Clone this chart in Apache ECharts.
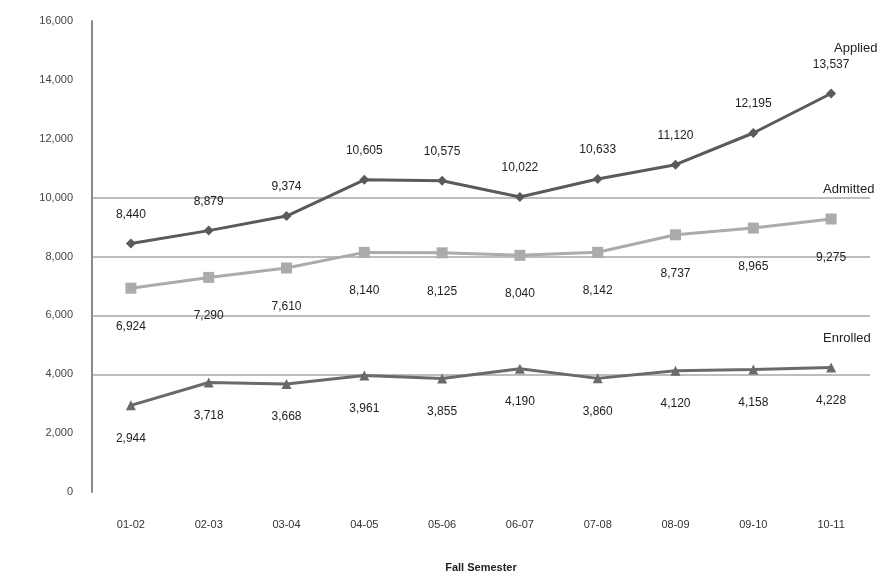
<!DOCTYPE html>
<html>
<head>
<meta charset="utf-8">
<script src="https://cdn.jsdelivr.net/npm/echarts@6/dist/echarts.min.js"></script>
<style>html,body{margin:0;padding:0;background:#fff}#c{width:890px;height:578px}</style>
</head>
<body>
<div id="c"></div>
<script>
const categories = ['01-02','02-03','03-04','04-05','05-06','06-07','07-08','08-09','09-10','10-11'];
const applied  = [8440, 8879, 9374, 10605, 10575, 10022, 10633, 11120, 12195, 13537];
const admitted = [6924, 7290, 7610, 8140, 8125, 8040, 8142, 8737, 8965, 9275];
const enrolled = [2944, 3718, 3668, 3961, 3855, 4190, 3860, 4120, 4158, 4228];
const seriesNames = ['Applied', 'Admitted', 'Enrolled'];
const xAxisTitle = 'Fall Semester';

const font = 'Liberation Sans';
const fmt = v => v.toLocaleString('en-US');
const chart = echarts.init(document.getElementById('c'));
const valLabel = (pos, dist) => ({
  show: true, position: pos, distance: dist, color: '#222', fontSize: 12, fontFamily: font,
  formatter: p => fmt(p.value)
});
const endLabel = (off) => ({
  show: true, formatter: '{a}', color: '#222', fontSize: 13, fontFamily: font, offset: off
});
chart.setOption({
  animation: false,
  backgroundColor: '#fff',
  grid: { left: 92, right: 20, top: 21, bottom: 81 },
  xAxis: {
    type: 'category', data: categories, boundaryGap: true,
    name: xAxisTitle, nameLocation: 'middle', nameGap: 70,
    nameTextStyle: { fontWeight: 'bold', fontSize: 11, color: '#222', fontFamily: font },
    axisLine: { show: false }, axisTick: { show: false },
    axisLabel: { color: '#333', fontSize: 11, fontFamily: font, margin: 27 }
  },
  yAxis: {
    type: 'value', min: 0, max: 16000, interval: 2000,
    axisLine: { show: true, lineStyle: { color: '#8a8a8a', width: 2 } },
    axisTick: { show: false },
    axisLabel: { color: '#444', fontSize: 11, fontFamily: font, margin: 19, formatter: v => fmt(v) },
    splitLine: { show: true, lineStyle: { width: 2, color: [
      'rgba(0,0,0,0)', 'rgba(0,0,0,0)', '#bdbdbd', '#bdbdbd', '#bdbdbd', '#bdbdbd',
      'rgba(0,0,0,0)', 'rgba(0,0,0,0)', 'rgba(0,0,0,0)'] } }
  },
  series: [
    { name: seriesNames[0], type: 'line', data: applied, symbol: 'diamond', symbolSize: 10,
      lineStyle: { color: '#5a5a5a', width: 3 }, itemStyle: { color: '#5a5a5a' },
      label: valLabel('top', 18), endLabel: endLabel([-5, -45]) },
    { name: seriesNames[1], type: 'line', data: admitted, symbol: 'rect', symbolSize: 11,
      lineStyle: { color: '#ababab', width: 3 }, itemStyle: { color: '#ababab' },
      label: valLabel('bottom', 27), endLabel: endLabel([-16, -30]) },
    { name: seriesNames[2], type: 'line', data: enrolled, symbol: 'triangle', symbolSize: 10,
      lineStyle: { color: '#6a6a6a', width: 3 }, itemStyle: { color: '#6a6a6a' },
      label: valLabel('bottom', 22), endLabel: endLabel([-16, -29]) }
  ]
});
</script>
</body>
</html>
